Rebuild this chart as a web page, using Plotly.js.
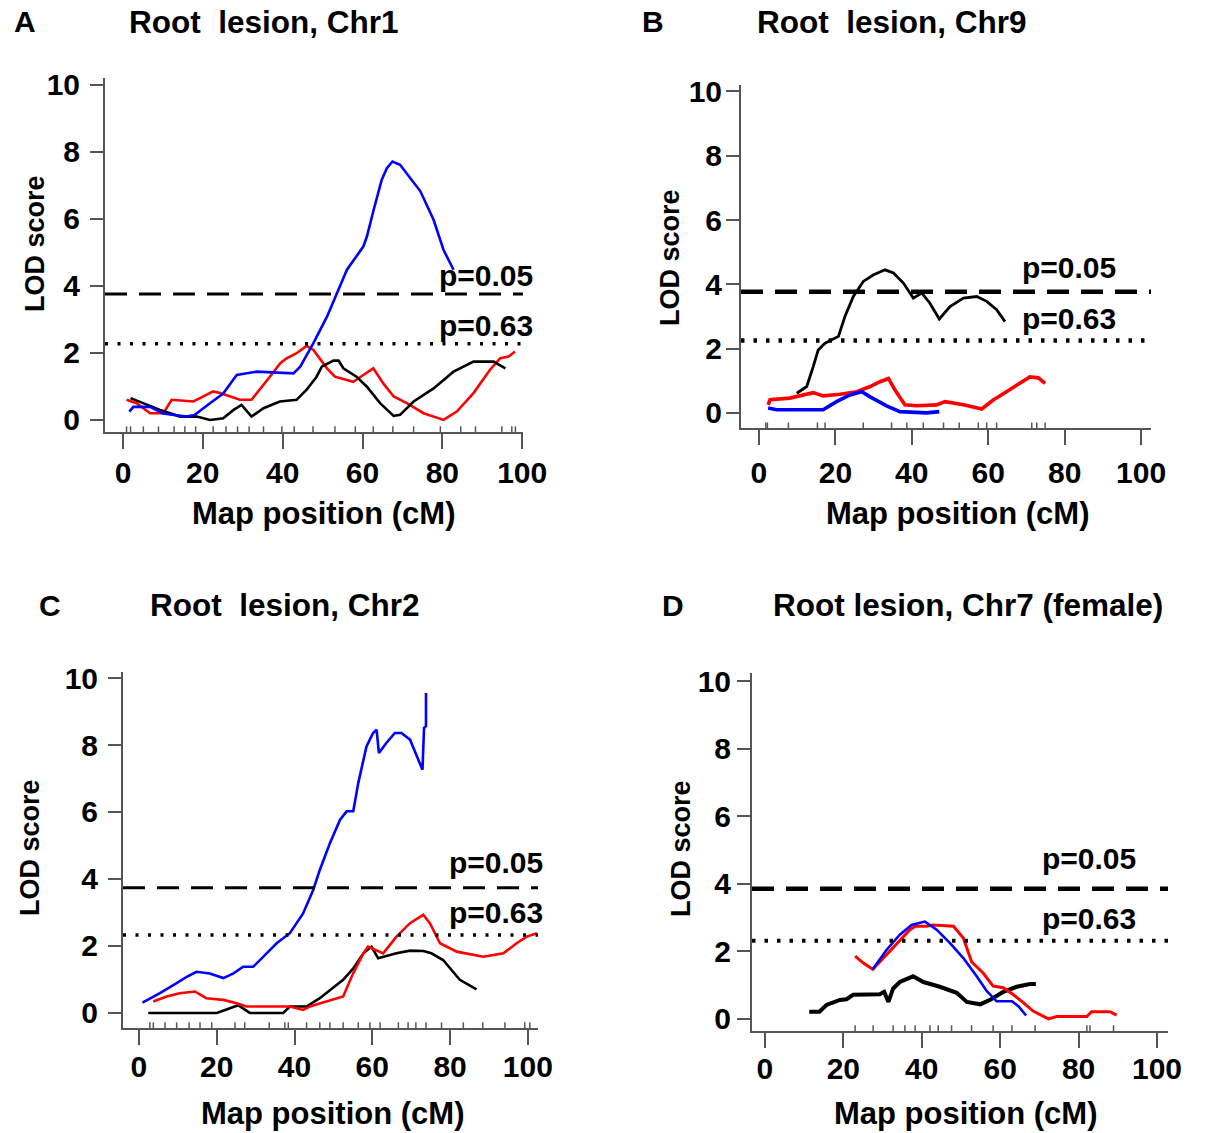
<!DOCTYPE html>
<html><head><meta charset="utf-8">
<script src="https://cdn.plot.ly/plotly-3.0.1.min.js"></script>
<style>body{margin:0;background:#fff}</style>
</head><body><div id="chart" style="width:1209px;height:1133px"></div>
<script>
// ---------- Panel A: Root lesion, Chr1 ----------
const aBlueX = [1.6,2.6,6.8,10.1,15.9,18.0,21.8,25.1,28.5,31.0,33.5,42.7,44.4,47.7,51.1,53.6,56.1,60.2,61.1,62.8,64.8,66.1,67.5,69.4,72.8,74.5,77.8,80.3,82.8];
const aBlueY = [0.25,0.39,0.39,0.19,0.10,0.15,0.50,0.79,1.34,1.39,1.44,1.39,1.59,2.29,3.08,3.78,4.48,5.17,5.47,6.27,7.16,7.51,7.71,7.61,7.06,6.82,5.97,5.07,4.48];
const aRedX = [0.9,3.4,6.8,10.1,12.2,17.6,19.3,22.6,24.3,26.8,29.3,32.2,34.3,36.8,39.4,41.0,43.5,46.0,47.7,51.1,53.1,57.7,60.2,62.7,65.2,67.8,71.1,75.3,80.3,83.6,87.8,91.9,94.5,96.6,98.2];
const aRedY = [0.60,0.50,0.20,0.20,0.60,0.55,0.65,0.85,0.80,0.70,0.60,0.60,0.90,1.29,1.69,1.84,1.99,2.21,2.09,1.54,1.29,1.14,1.34,1.54,1.09,0.70,0.50,0.20,0.00,0.25,0.80,1.49,1.84,1.89,2.04];
const aBlackX = [1.9,5.1,9.3,14.3,18.5,21.8,25.1,27.7,29.7,32.2,35.2,39.3,43.5,46.0,48.5,49.8,52.7,54.0,55.2,58.5,61.1,64.4,67.8,69.4,72.8,77.8,82.8,87.8,92.8,95.8];
const aBlackY = [0.65,0.50,0.30,0.10,0.10,0.00,0.05,0.30,0.45,0.10,0.35,0.55,0.60,0.90,1.29,1.59,1.77,1.77,1.54,1.29,0.99,0.50,0.12,0.15,0.55,0.94,1.44,1.74,1.74,1.54];
const aMarkers = [0.9,1.9,5.1,8.9,12.8,15.5,18.2,22.6,25.8,28.7,31.6,35.2,39.8,42.9,47.6,53.1,58.2,62.7,67.6,72.8,79.5,84.6,88.3,94.9,97.4,98.3];
const aThresholds = [3.76, 2.27];

// ---------- Panel B: Root lesion, Chr9 ----------
const bBlackX = [9.9,12.5,14.2,15.5,17.3,20.8,22.5,24.7,27.3,29.9,33.0,35.2,37.8,39.5,40.4,42.6,44.7,47.2,50.0,53.5,57.0,59.6,62.2,64.4];
const bBlackY = [0.61,0.82,1.44,1.96,2.17,2.38,3.00,3.62,4.09,4.29,4.45,4.35,4.04,3.73,3.57,3.73,3.42,2.92,3.31,3.57,3.62,3.47,3.21,2.84];
const bRedX = [2.4,2.9,8.1,11.6,14.2,16.8,21.2,25.6,29.1,31.7,33.9,35.6,38.2,41.3,46.5,48.7,53.5,58.3,61.3,64.8,68.3,70.9,73.1,74.9];
const bRedY = [0.25,0.41,0.46,0.56,0.63,0.53,0.58,0.66,0.82,0.97,1.07,0.71,0.25,0.22,0.25,0.35,0.25,0.12,0.40,0.66,0.92,1.12,1.09,0.92];
const bBlueX = [2.4,4.6,16.8,20.3,23.8,26.9,29.1,33.4,36.9,41.3,43.9,47.2];
const bBlueY = [0.15,0.10,0.10,0.35,0.56,0.66,0.50,0.22,0.04,0.02,0.00,0.04];
const bMarkers = [1.8,2.2,7.7,15.3,17.3,27.3,34.7,38.7,43.0,48.3,52.4,57.4,59.6,62.2,71.4,72.7,74.9];
const bThresholds = [3.77, 2.25];

// ---------- Panel C: Root lesion, Chr2 ----------
const cBlueX = [0.9,5.4,9.7,12.3,14.8,18.2,21.7,24.3,26.8,29.4,32.0,35.4,38.8,42.2,44.8,46.5,49.1,51.7,53.4,55.1,56.4,58.5,60.2,61.1,61.7,63.6,65.8,67.5,69.7,71.4,72.9,73.3,73.8,73.8];
const cBlueY = [0.31,0.59,0.89,1.08,1.23,1.18,1.04,1.18,1.38,1.38,1.68,2.08,2.38,2.97,3.67,4.27,5.07,5.77,6.02,6.02,6.87,7.96,8.36,8.46,7.76,8.06,8.36,8.36,8.16,7.71,7.26,8.51,8.56,9.55];
const cRedX = [3.7,7.1,10.5,13.1,14.4,17.3,21.7,25.1,27.6,38.8,42.2,43.9,48.2,52.5,55.1,57.7,58.9,61.1,62.8,66.2,69.7,73.1,74.8,77.4,81.7,88.5,93.7,97.1,99.7,102.3];
const cRedY = [0.34,0.49,0.59,0.61,0.64,0.44,0.39,0.29,0.19,0.19,0.09,0.19,0.34,0.49,1.19,1.78,1.98,1.88,1.78,2.28,2.68,2.93,2.68,2.08,1.83,1.68,1.78,2.08,2.28,2.38];
const cBlackX = [2.4,20.0,22.5,25.5,28.5,37.1,38.8,43.1,46.5,49.9,52.5,55.1,57.7,59.8,61.5,66.2,69.7,73.1,75.2,78.2,82.5,86.8];
const cBlackY = [0.00,0.00,0.10,0.23,0.00,0.00,0.19,0.19,0.44,0.74,0.99,1.33,1.78,1.98,1.63,1.78,1.86,1.85,1.78,1.58,0.99,0.70];
const cMarkers = [2.8,3.7,6.7,9.7,12.9,15.7,18.7,24.7,27.2,33.5,37.5,38.4,43.1,46.5,49.1,52.5,56.4,59.4,62.0,66.7,69.2,71.2,73.8,77.8,83.4,88.4,94.1,99.2,100.5];
const cThresholds = [3.74, 2.33];

// ---------- Panel D: Root lesion, Chr7 (female) ----------
const dRedX = [23.0,25.1,27.5,30.2,33.6,37.0,38.3,41.2,42.9,48.1,50.6,52.7,55.7,58.2,60.8,63.3,65.9,68.4,72.3,74.4,82.1,83.3,88.0,89.7];
const dRedY = [1.86,1.65,1.47,1.80,2.24,2.64,2.74,2.74,2.78,2.74,2.39,1.69,1.35,0.97,0.92,0.72,0.48,0.23,0.00,0.07,0.07,0.21,0.21,0.11];
const dBlueX = [27.5,31.0,34.4,37.4,40.8,43.8,47.2,50.6,54.0,56.6,59.1,63.0,64.7,66.6];
const dBlueY = [1.47,2.04,2.49,2.78,2.88,2.64,2.24,1.80,1.26,0.82,0.52,0.52,0.37,0.10];
const dBlackX = [11.3,13.9,15.7,19.1,20.8,22.5,29.3,30.4,31.5,32.7,34.4,37.8,40.4,44.6,48.9,51.5,54.9,57.4,60.8,64.2,67.6,69.1];
const dBlackY = [0.21,0.21,0.41,0.56,0.58,0.71,0.73,0.80,0.50,0.90,1.09,1.26,1.09,0.95,0.77,0.50,0.43,0.56,0.80,0.95,1.03,1.03];
const dMarkers = [23.0,27.6,32.7,35.7,38.3,42.1,44.2,47.6,52.7,58.2,63.0,68.9,82.1,82.9,88.9];
const dThresholds = [3.85, 2.31];

// ---------- Labels ----------
const panelLetters = ['A','B','C','D'];
const panelTitles = ['Root\u00A0 lesion, Chr1','Root\u00A0 lesion, Chr9','Root\u00A0 lesion, Chr2','Root lesion, Chr7 (female)'];
const thresholdLabels = ['p=0.05','p=0.63'];
const xTickVals = [0,20,40,60,80,100];
const yTickVals = [0,2,4,6,8,10];
const xTitle = 'Map position (cM)';
const yTitle = 'LOD score';

// ---------- Layout helpers ----------
const W = 1209, H = 1133;
const px = v => v / W;
const py = v => 1 - v / H;
const FONT = 'Liberation Sans, Arial, sans-serif';
const AXC = '#555555';
const bold = (size) => ({family:FONT, size:size, color:'#000', weight:'bold'});

const panels = [
  {xs:'x',  ys:'y',  dom:[105,523,78,432],   xr:[-4.5,100.2], yr:[-0.36,10.2], xso:-2, yso:4,
   series:[[aRedX,aRedY,'#ff0000',2.6],[aBlackX,aBlackY,'#000000',2.6],[aBlueX,aBlueY,'#0000ff',2.6]],
   markers:aMarkers, thr:aThresholds, thrW:[3,3.5], dot:'3px,9.5px',
   letter:[12,22], title:[127,22], plab:[437,275,325], xt:[324,513], yt:[35,244]},
  {xs:'x2', ys:'y2', dom:[741,1151,85,428],  xr:[-4.7,102.6], yr:[-0.47,10.2], xso:2, yso:-2,
   series:[[bBlackX,bBlackY,'#000000',2.8],[bRedX,bRedY,'#ff0000',3.6],[bBlueX,bBlueY,'#0000ff',3.6]],
   markers:bMarkers, thr:bThresholds, thrW:[4.5,4.5], dot:'3.5px,9px',
   letter:[640,22], title:[755,22], plab:[1020,268,318], xt:[957,513], yt:[670,258]},
  {xs:'x3', ys:'y3', dom:[123,538,672,1028], xr:[-4.1,102.6], yr:[-0.45,10.18], xso:-4, yso:4,
   series:[[cBlackX,cBlackY,'#000000',2.6],[cRedX,cRedY,'#ff0000',2.6],[cBlueX,cBlueY,'#0000ff',2.6]],
   markers:cMarkers, thr:cThresholds, thrW:[3,3.5], dot:'3px,9.5px',
   letter:[37,605], title:[148,605], plab:[447,862,912], xt:[332,1113], yt:[30,848]},
  {xs:'x4', ys:'y4', dom:[752,1168,673,1031], xr:[-3.3,102.8], yr:[-0.36,10.24], xso:-5, yso:0,
   series:[[dBlackX,dBlackY,'#000000',4],[dRedX,dRedY,'#ff0000',3],[dBlueX,dBlueY,'#0000ff',2.6]],
   markers:dMarkers, thr:dThresholds, thrW:[4.5,4], dot:'3.5px,9px',
   letter:[660,605], title:[771,605], plab:[1040,858,918], xt:[965,1113], yt:[681,849]}
];

const traces = [];
const shapes = [];
const annotations = [];
const layout = {
  width: W, height: H, margin:{l:0,r:0,t:0,b:0},
  paper_bgcolor:'#ffffff', plot_bgcolor:'#ffffff', showlegend:false,
  font:bold(30)
};

panels.forEach((p, i) => {
  const xName = 'xaxis' + (i ? i+1 : '');
  const yName = 'yaxis' + (i ? i+1 : '');
  layout[xName] = {
    domain:[px(p.dom[0]), px(p.dom[1])], range:p.xr, anchor:p.ys,
    showline:true, linecolor:AXC, linewidth:2, showgrid:false, zeroline:false,
    ticks:'outside', ticklen:15, tickwidth:2, tickcolor:AXC,
    tickmode:'array', tickvals:xTickVals, ticklabelstandoff:p.xso,
    tickfont:bold(30)
  };
  layout[yName] = {
    domain:[py(p.dom[3]), py(p.dom[2])], range:p.yr, anchor:p.xs,
    showline:true, linecolor:AXC, linewidth:2, showgrid:false, zeroline:false,
    ticks:'outside', ticklen:13, tickwidth:2, tickcolor:AXC,
    tickmode:'array', tickvals:yTickVals, ticklabelstandoff:p.yso,
    tickfont:bold(30)
  };
  p.series.forEach(s => {
    traces.push({type:'scatter', mode:'lines', x:s[0], y:s[1], xaxis:p.xs, yaxis:p.ys,
      line:{color:s[2], width:s[3]}, hoverinfo:'skip'});
  });
  // rug of marker positions
  p.markers.forEach(m => {
    shapes.push({type:'line', xref:p.xs, yref:p.ys + ' domain', x0:m, x1:m, y0:0, y1:0.016,
      line:{color:AXC, width:1.5}});
  });
  // thresholds
  shapes.push({type:'line', xref:p.xs + ' domain', yref:p.ys, x0:0, x1:1, y0:p.thr[0], y1:p.thr[0],
    line:{color:'#000', width:p.thrW[0], dash:'22px,12px'}});
  shapes.push({type:'line', xref:p.xs + ' domain', yref:p.ys, x0:0, x1:1, y0:p.thr[1], y1:p.thr[1],
    line:{color:'#000', width:p.thrW[1], dash:p.dot}});
  // threshold labels
  thresholdLabels.forEach((t, k) => {
    annotations.push({text:t, xref:'paper', yref:'paper', x:px(p.plab[0]), y:py(p.plab[1+k]),
      xanchor:'left', yanchor:'middle', showarrow:false, font:bold(30)});
  });
  // panel letter and title
  annotations.push({text:panelLetters[i], xref:'paper', yref:'paper', x:px(p.letter[0]), y:py(p.letter[1]),
    xanchor:'left', yanchor:'middle', showarrow:false, font:bold(30)});
  annotations.push({text:panelTitles[i], xref:'paper', yref:'paper', x:px(p.title[0]), y:py(p.title[1]),
    xanchor:'left', yanchor:'middle', showarrow:false, font:bold(31.5)});
  // axis titles
  annotations.push({text:xTitle, xref:'paper', yref:'paper', x:px(p.xt[0]), y:py(p.xt[1]),
    xanchor:'center', yanchor:'middle', showarrow:false, font:bold(31)});
  annotations.push({text:yTitle, xref:'paper', yref:'paper', x:px(p.yt[0]), y:py(p.yt[1]),
    xanchor:'center', yanchor:'middle', textangle:-90, showarrow:false, font:bold(27)});
});
layout.shapes = shapes;
layout.annotations = annotations;

Plotly.newPlot('chart', traces, layout, {staticPlot:true, displayModeBar:false});
</script>
</body></html>
